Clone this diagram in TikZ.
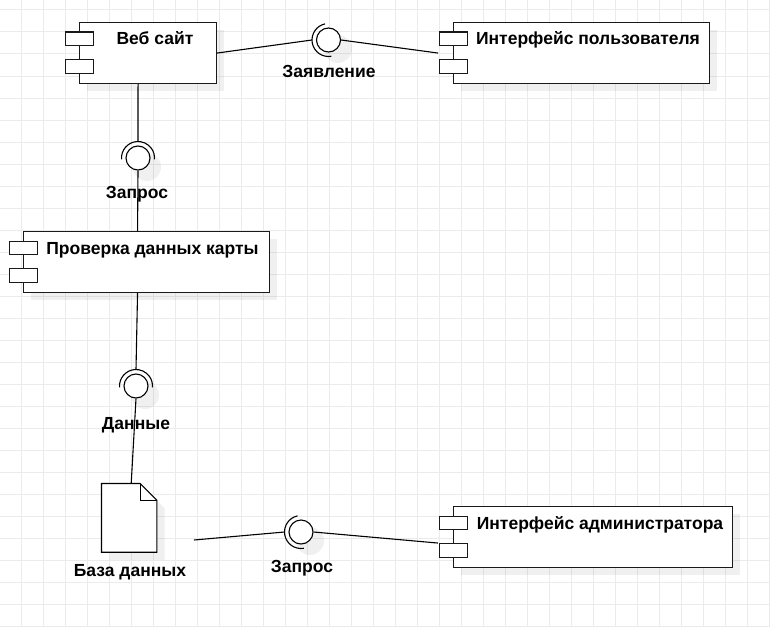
\documentclass[tikz,border=0pt]{standalone}
\usepackage{fontspec}
\setmainfont{Liberation Sans}
\begin{document}
\begin{tikzpicture}[x=1pt,y=-1pt,
  gridline/.style={draw=black!8, line width=1pt},
  shd/.style={fill=black, fill opacity=0.06},
  comp/.style={draw=black!90, fill=white, line width=1.1pt, inner sep=0, anchor=north west, minimum height=61pt},
  port/.style={draw=black!90, fill=white, line width=1.1pt, inner sep=0, minimum width=28pt, minimum height=13.5pt, anchor=north west},
  lolli/.style={circle, draw=black, fill=white, line width=1.1pt, minimum size=24pt, inner sep=0},
  sock/.style={draw=black, line width=1.1pt},
  conn/.style={draw=black, line width=1.1pt},
  lbl/.style={font=\fontsize{17.5}{20}\selectfont\bfseries, inner sep=0, anchor=base}
]
\fill[white] (0,0) rectangle (770,626);
\useasboundingbox (0,0) rectangle (770,626);
% grid
\foreach \i in {1,...,35} \draw[gridline] ({-1+22*\i},0) -- ({-1+22*\i},626);
\foreach \j in {0,...,28} \draw[gridline] (0,{10+22*\j}) -- (770,{10+22*\j});

% shadows
\fill[shd] (87,30) rectangle (224,91);
\fill[shd] (461,30) rectangle (717,91);
\fill[shd] (31,239) rectangle (277,300);
\fill[shd] (461,514) rectangle (740,575);
\fill[shd] (109.7,491.7) -- (148,491.7) -- (164.7,508.4) -- (164.7,560) -- (109.7,560) -- cycle;
\fill[shd] (338,49) circle (14);
\fill[shd] (147,167) circle (14);
\fill[shd] (145,395) circle (14);
\fill[shd] (310,541) circle (14);

% components
\node[comp, minimum width=137pt] (A) at (79,22) {};
\node[port] (Ap1) at ([shift={(-14pt,-9.5pt)}]A.north west) {};
\node[port] (Ap2) at ([shift={(-14pt,-37pt)}]A.north west) {};
\node[lbl] (At) at (155,44.7) {Веб сайт};

\node[comp, minimum width=256pt] (B) at (453,22) {};
\node[port] (Bp1) at ([shift={(-14pt,-9.5pt)}]B.north west) {};
\node[port] (Bp2) at ([shift={(-14pt,-37pt)}]B.north west) {};
\node[lbl] (Bt) at (588,44.7) {Интерфейс пользователя};

\node[comp, minimum width=246pt] (C) at (23,231) {};
\node[port] (Cp1) at ([shift={(-14pt,-9.5pt)}]C.north west) {};
\node[port] (Cp2) at ([shift={(-14pt,-37pt)}]C.north west) {};
\node[lbl] (Ct) at (152.5,254) {Проверка данных карты};

\node[comp, minimum width=279pt] (D) at (453,506) {};
\node[port] (Dp1) at ([shift={(-14pt,-9.5pt)}]D.north west) {};
\node[port] (Dp2) at ([shift={(-14pt,-37pt)}]D.north west) {};
\node[lbl] (Dt) at (600,529) {Интерфейс администратора};

% database document
\node[inner sep=0, minimum width=55pt, minimum height=68.3pt] (db) at (129.2,517.85) {};
\draw[conn, fill=white] (db.north west) -- ([xshift=-16.7pt]db.north east) -- ([yshift=-16.7pt]db.north east) -- (db.south east) -- (db.south west) -- cycle;
\draw[conn] ([xshift=-16.7pt]db.north east) -- ([xshift=-16.7pt,yshift=-16.7pt]db.north east) -- ([yshift=-16.7pt]db.north east);
\node[lbl] (dbt) at (130,576) {База данных};

% interfaces (lollipop + socket)
\node[lolli] (l1) at (328.5,40) {};
\draw[sock] (l1.center) ++(80:16.5) arc[start angle=80, end angle=258, radius=16.5];
\coordinate (l1s) at ([xshift=-16.5pt]l1.center);
\node[lbl] (l1t) at (329,77.7) {Заявление};

\node[lolli] (l2) at (138,158) {};
\draw[sock] (l2.center) ++(175:16.5) arc[start angle=175, end angle=365, radius=16.5];
\coordinate (l2s) at ([yshift=16.5pt]l2.center);
\node[lbl] (l2t) at (137,198.3) {Запрос};

\node[lolli] (l3) at (136,386) {};
\draw[sock] (l3.center) ++(175:16.5) arc[start angle=175, end angle=365, radius=16.5];
\coordinate (l3s) at ([yshift=16.5pt]l3.center);
\node[lbl] (l3t) at (136,429.5) {Данные};

\node[lolli] (l4) at (301,532) {};
\draw[sock] (l4.center) ++(80:16.5) arc[start angle=80, end angle=258, radius=16.5];
\coordinate (l4s) at ([xshift=-16.5pt]l4.center);
\node[lbl] (l4t) at (302,572.7) {Запрос};

% connectors
\coordinate (dbout) at (194,540);
\draw[conn] (A.east) -- (l1s);
\draw[conn] (l1.east) -- ([xshift=-15pt]B.west);
\draw[conn] ([xshift=-10pt]A.south) -- (l2s);
\draw[conn] (l2.south) -- ([xshift=-9pt]C.north);
\draw[conn] ([xshift=-9pt]C.south) -- (l3s);
\draw[conn] (l3.south) -- ([xshift=2pt]db.north);
\draw[conn] (dbout) -- (l4s);
\draw[conn] (l4.east) -- ([xshift=-15pt,yshift=-6pt]D.west);
\end{tikzpicture}
\end{document}
